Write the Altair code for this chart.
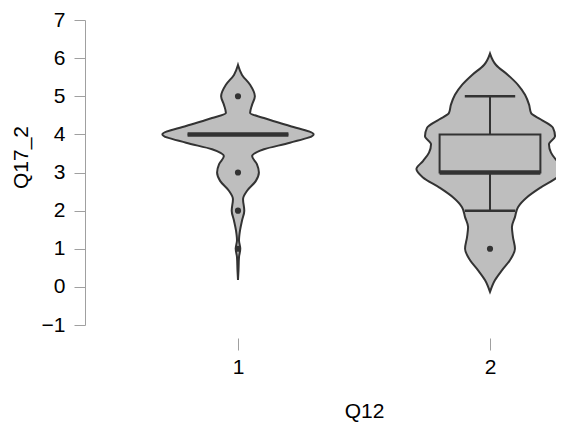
import altair as alt
import pandas as pd

# Violin outline: y value and half-width (in x-axis units) of the density
g1_y = [0.18, 0.44, 0.78, 1.0, 1.22, 1.48, 1.74, 2.0, 2.3, 2.52, 2.78, 3.0, 3.22,
        3.43, 3.61, 3.78, 4.0, 4.22, 4.43, 4.56, 4.78, 5.0, 5.3, 5.56, 5.82]
g1_w = [0.0, 0.002, 0.004, 0.009, 0.004, 0.008, 0.016, 0.025, 0.02, 0.036, 0.071,
        0.083, 0.075, 0.056, 0.103, 0.206, 0.30, 0.206, 0.103, 0.048, 0.056, 0.067,
        0.048, 0.016, 0.0]

g2_y = [-0.13, 0.18, 0.44, 0.70, 1.0, 1.31, 1.57, 1.83, 2.09, 2.35, 2.61, 2.87, 3.09,
        3.30, 3.52, 3.74, 3.95, 4.17, 4.39, 4.56, 4.78, 5.04, 5.30, 5.56, 5.82, 6.12]
g2_w = [0.0, 0.020, 0.048, 0.079, 0.099, 0.091, 0.087, 0.099, 0.111, 0.147, 0.202,
        0.266, 0.292, 0.266, 0.242, 0.234, 0.258, 0.250, 0.202, 0.163, 0.155, 0.139,
        0.111, 0.071, 0.024, 0.0]

# Box statistics per group
groups = [1, 2]
q1 = [4, 3]
median = [4, 3]
q3 = [4, 4]
whisk_lo = [4, 2]
whisk_hi = [4, 5]
box_half = 0.2
cap_half = 0.1

# Outliers
out_group = [1, 1, 1, 1, 2]
out_value = [5, 3, 2, 1, 1]


def violin_df(g, ys, ws):
    return pd.DataFrame({"y": ys, "x0": [g - w for w in ws], "x1": [g + w for w in ws]})


box_df = pd.DataFrame({
    "group": groups, "q1": q1, "q3": q3, "median": median,
    "lo": whisk_lo, "hi": whisk_hi,
    "bx0": [g - box_half for g in groups], "bx1": [g + box_half for g in groups],
    "cx0": [g - cap_half for g in groups], "cx1": [g + cap_half for g in groups],
})
out_df = pd.DataFrame({"group": out_group, "value": out_value})

FILL = "#bebebe"
DARK = "#333333"
AXC = "#a0a0a0"
FONT = "Liberation Sans"
FS = 21

xscale = alt.Scale(domain=[0.3929, 2.2619], nice=False, zero=False)
yscale = alt.Scale(domain=[-1, 7], nice=False, zero=False)

xaxis = alt.Axis(values=[1, 2], format="d", title="Q12", domain=False, grid=False,
                 tickSize=12, tickColor=AXC, offset=13, labelPadding=6,
                 labelFontSize=FS, labelFont=FONT, labelColor="#000000",
                 labelOverlap=False,
                 titleFontSize=FS, titleFont=FONT, titleFontWeight="normal",
                 titleColor="#000000", titleX=279, titleY=79,
                 titleBaseline="alphabetic", titleAlign="center")
yaxis = alt.Axis(values=list(range(-1, 8)), format="d", title="Q17_2", grid=False,
                 tickSize=11, tickColor=AXC, domainColor=AXC,
                 labelPadding=9, labelFontSize=FS, labelFont=FONT,
                 labelColor="#000000", labelOverlap=False,
                 titleFontSize=FS, titleFont=FONT,
                 titleFontWeight="normal", titleColor="#000000",
                 titleX=-58, titleY=137, titleAngle=-90,
                 titleBaseline="alphabetic", titleAlign="center")


def X(field):
    return alt.X(field, scale=xscale, axis=xaxis)


def Y(field):
    return alt.Y(field, scale=yscale, axis=yaxis)


def violin(df):
    return alt.Chart(df).mark_area(
        orient="horizontal", interpolate="monotone", fill=FILL, stroke=DARK,
        strokeWidth=2, opacity=1, fillOpacity=1
    ).encode(y=Y("y:Q"), x=X("x0:Q"), x2="x1:Q")


v1 = violin(violin_df(1, g1_y, g1_w))
v2 = violin(violin_df(2, g2_y, g2_w))

whisk_up = alt.Chart(box_df).mark_rule(color=DARK, strokeWidth=2).encode(
    x=X("group:Q"), y=Y("q3:Q"), y2="hi:Q")
whisk_dn = alt.Chart(box_df).mark_rule(color=DARK, strokeWidth=2).encode(
    x=X("group:Q"), y=Y("lo:Q"), y2="q1:Q")
cap_hi = alt.Chart(box_df).mark_rule(color=DARK, strokeWidth=2.5).encode(
    x=X("cx0:Q"), x2="cx1:Q", y=Y("hi:Q"))
cap_lo = alt.Chart(box_df).mark_rule(color=DARK, strokeWidth=2.5).encode(
    x=X("cx0:Q"), x2="cx1:Q", y=Y("lo:Q"))
box = alt.Chart(box_df).mark_rect(fill=FILL, stroke=DARK, strokeWidth=2).encode(
    x=X("bx0:Q"), x2="bx1:Q", y=Y("q1:Q"), y2="q3:Q")
med = alt.Chart(box_df).mark_rule(color=DARK, strokeWidth=4.5).encode(
    x=X("bx0:Q"), x2="bx1:Q", y=Y("median:Q"))
pts = alt.Chart(out_df).mark_circle(color=DARK, opacity=1, size=38).encode(
    x=X("group:Q"), y=Y("value:Q"))

chart = alt.layer(v1, v2, whisk_up, whisk_dn, cap_hi, cap_lo, box, med, pts).properties(
    width=471, height=305,
    autosize=alt.AutoSizeParams(type="none"),
    padding={"left": 77, "top": 12, "right": 0, "bottom": 99},
).configure_view(stroke=None)

chart.save("out.html", embed_options={"renderer": "svg", "actions": False})
